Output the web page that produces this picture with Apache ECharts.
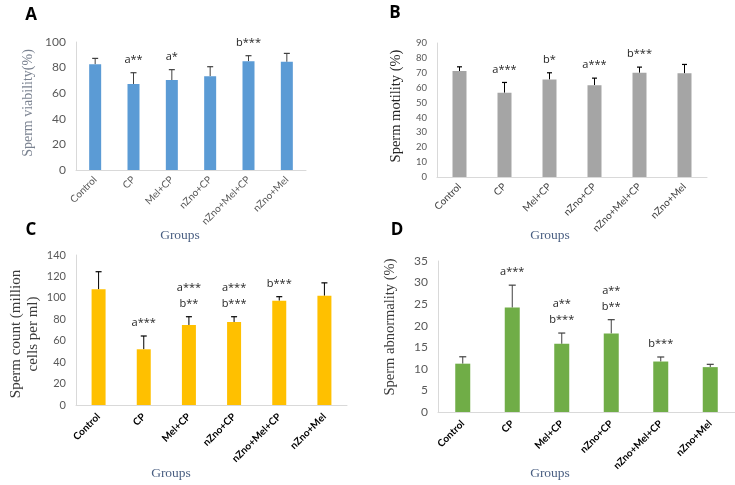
<!DOCTYPE html>
<html>
<head>
<meta charset="utf-8">
<script src="https://cdn.jsdelivr.net/npm/echarts@6/dist/echarts.min.js"></script>
<style>
html,body{margin:0;padding:0;background:#fff;}
#c{width:735px;height:485px;}
</style>
</head>
<body>
<div id="c"></div>
<script>
const categories = ['Control', 'CP', 'Mel+CP', 'nZno+CP', 'nZno+Mel+CP', 'nZno+Mel'];

const viability = [82.6, 67.2, 70.3, 73.3, 85.0, 84.5];
const viabilityErr = [4.6, 8.8, 8.1, 7.4, 4.3, 6.6];
const viabilityMarks = ['', 'a**', 'a*', '', 'b***', ''];
const viabilityTicks = [0, 20, 40, 60, 80, 100];

const motility = [71.2, 56.6, 65.5, 61.7, 70.0, 69.6];
const motilityErr = [2.8, 6.9, 4.5, 4.7, 3.8, 6.0];
const motilityMarks = ['', 'a***', 'b*', 'a***', 'b***', ''];
const motilityTicks = [0, 10, 20, 30, 40, 50, 60, 70, 80, 90];

const count = [108, 52, 74.7, 77.5, 97.4, 102];
const countErr = [16.4, 12.4, 7.7, 4.9, 3.7, 12];
const countMarks = ['', 'a***', 'a***\nb**', 'a***\nb***', 'b***', ''];
const countTicks = [0, 20, 40, 60, 80, 100, 120, 140];

const abnormality = [11.2, 24.2, 15.8, 18.2, 11.7, 10.4];
const abnormalityErr = [1.6, 5.2, 2.5, 3.2, 1.05, 0.65];
const abnormalityMarks = ['', 'a***', 'a**\nb***', 'a**\nb**', 'b***', ''];
const abnormalityTicks = [0, 5, 10, 15, 20, 25, 30, 35];

const panels = [
  { vals: viability, errs: viabilityErr, marks: viabilityMarks, ticks: viabilityTicks, color: '#5B9BD5',
    grid: { left: 76, top: 42, width: 230, height: 128 }, barWidth: 12, tickSize: 12, xSize: 10, xBold: false, xColor: '#595959', margin: 8, cap: 6, errColor: '#404040', markSize: 11 },
  { vals: motility, errs: motilityErr, marks: motilityMarks, ticks: motilityTicks, color: '#A5A5A5',
    grid: { left: 437, top: 43, width: 270, height: 134 }, barWidth: 14, tickSize: 9.5, xSize: 10, xBold: false, xColor: '#404040', margin: 8, cap: 5, errColor: '#000', markSize: 11 },
  { vals: count, errs: countErr, marks: countMarks, ticks: countTicks, color: '#FFC000',
    grid: { left: 76, top: 255, width: 271, height: 150 }, barWidth: 14, tickSize: 11, xSize: 10, xBold: true, xColor: '#000', margin: 10, cap: 6, errColor: '#000', markSize: 11 },
  { vals: abnormality, errs: abnormalityErr, marks: abnormalityMarks, ticks: abnormalityTicks, color: '#70AD47',
    grid: { left: 438, top: 261, width: 297, height: 151 }, barWidth: 15, tickSize: 12, xSize: 10, xBold: true, xColor: '#000', margin: 10, cap: 7, errColor: '#404040', markSize: 11 }
];

const chart = echarts.init(document.getElementById('c'), null, { renderer: 'canvas' });

const grids = [], xAxes = [], yAxes = [], series = [];
panels.forEach((p, k) => {
  grids.push(Object.assign({ containLabel: false }, p.grid));
  xAxes.push({
    type: 'category', gridIndex: k, data: categories,
    axisLine: { show: true, lineStyle: { color: '#d9d9d9', width: 1 } },
    axisTick: { show: false },
    axisLabel: { interval: 0, rotate: 45, margin: p.margin, fontFamily: 'Lato', fontSize: p.xSize,
      fontWeight: p.xBold ? 'bold' : 'normal', color: p.xColor }
  });
  const tmin = p.ticks[0], tmax = p.ticks[p.ticks.length - 1];
  yAxes.push({
    type: 'value', gridIndex: k, min: tmin, max: tmax, interval: p.ticks[1] - p.ticks[0],
    splitLine: { show: false },
    axisLine: { show: true, lineStyle: { color: '#d9d9d9', width: 1 } },
    axisTick: { show: false },
    axisLabel: { fontFamily: 'Lato', fontSize: p.tickSize, color: '#595959', margin: 10 }
  });
  series.push({
    type: 'bar', xAxisIndex: k, yAxisIndex: k, data: p.vals, barWidth: p.barWidth,
    itemStyle: { color: p.color }, silent: true, animation: false
  });
  const errData = p.vals.map((v, i) => [i, v, v + p.errs[i]]);
  series.push({
    type: 'custom', xAxisIndex: k, yAxisIndex: k, data: errData, animation: false, silent: true,
    encode: { x: 0, y: [1, 2] },
    renderItem: function (params, api) {
      const i = api.value(0);
      const base = api.coord([i, api.value(1)]);
      const top = api.coord([i, api.value(2)]);
      const c = p.cap / 2;
      const children = [
        { type: 'line', shape: { x1: base[0], y1: base[1], x2: top[0], y2: top[1] }, style: { stroke: p.errColor, lineWidth: 1 } },
        { type: 'line', shape: { x1: top[0] - c, y1: top[1], x2: top[0] + c, y2: top[1] }, style: { stroke: p.errColor, lineWidth: 1.2 } }
      ];
      const m = p.marks[params.dataIndex];
      if (m) {
        children.push({ type: 'text', x: top[0], y: top[1] - 5,
          style: { text: m, align: 'center', verticalAlign: 'bottom', fontFamily: 'Open Sans', fontSize: p.markSize,
            lineHeight: 16, fill: '#262626' } });
      }
      return { type: 'group', children: children };
    }
  });
});

function rotTitle(text, x, y, color, size) {
  return { type: 'text', x: x, y: y, rotation: Math.PI / 2,
    style: { text: text, align: 'center', verticalAlign: 'middle', fontFamily: 'Liberation Serif', fontSize: size, fill: color, lineHeight: 17 } };
}
function plain(text, x, y, color, size, family, weight) {
  return { type: 'text', x: x, y: y,
    style: { text: text, align: 'center', verticalAlign: 'middle', fontFamily: family, fontSize: size, fontWeight: weight || 'normal', fill: color } };
}

const graphic = [
  plain('A', 31, 15, '#000', 17, 'Open Sans', 'bold'),
  plain('B', 395, 13, '#000', 17, 'Open Sans', 'bold'),
  plain('C', 31, 230, '#000', 17, 'Open Sans', 'bold'),
  plain('D', 397, 230, '#000', 17, 'Open Sans', 'bold'),
  rotTitle('Sperm viability(%)', 28, 103, '#7a8290', 14),
  rotTitle('Sperm motility (%)', 396, 106, '#262626', 14.5),
  rotTitle('Sperm count (million\ncells per ml)', 25, 334, '#3a3a3a', 15),
  rotTitle('Sperm abnormality (%)', 390, 327, '#3a3a3a', 14.5),
  plain('Groups', 180, 235, '#4a5f82', 13.5, 'Liberation Serif'),
  plain('Groups', 550, 235, '#4a5f82', 13.5, 'Liberation Serif'),
  plain('Groups', 171, 473, '#4a5f82', 13.5, 'Liberation Serif'),
  plain('Groups', 550, 473, '#4a5f82', 13.5, 'Liberation Serif')
];

chart.setOption({
  backgroundColor: '#ffffff',
  animation: false,
  grid: grids, xAxis: xAxes, yAxis: yAxes, series: series, graphic: graphic
});
</script>
</body>
</html>
